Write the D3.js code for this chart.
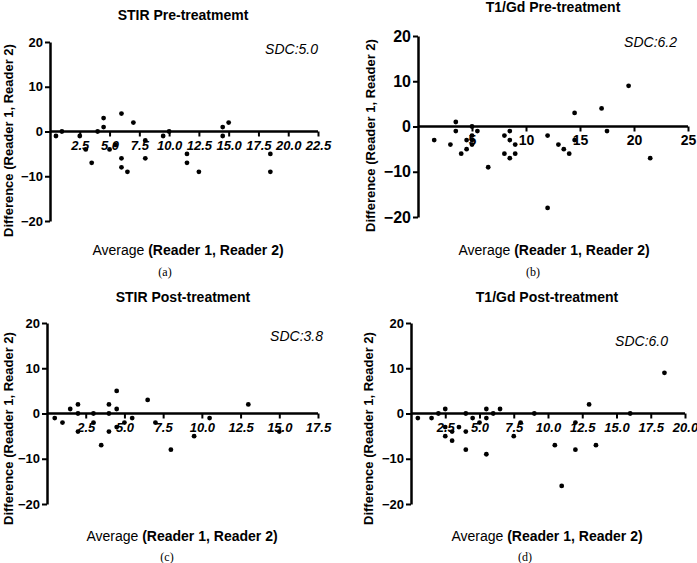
<!DOCTYPE html>
<html>
<head>
<meta charset="utf-8">
<script src="https://cdn.jsdelivr.net/npm/d3@7"></script>
<style>
  html, body { margin: 0; padding: 0; background: #fff; }
  svg { display: block; }
</style>
</head>
<body>
<svg id="chart" width="697" height="563"></svg>
<script>
// ---------- Data ----------
const titles = ["STIR Pre-treatmemt", "T1/Gd Pre-treatment", "STIR Post-treatment", "T1/Gd Post-treatment"];
const sdcLabels = ["SDC:5.0", "SDC:6.2", "SDC:3.8", "SDC:6.0"];
const panelLetters = ["(a)", "(b)", "(c)", "(d)"];
const yTicks = [-20, -10, 0, 10, 20];

const xTicksA = [2.5, 5.0, 7.5, 10.0, 12.5, 15.0, 17.5, 20.0, 22.5];
const xTicksB = [5, 10, 15, 20, 25];
const xTicksC = [2.5, 5.0, 7.5, 10.0, 12.5, 15.0, 17.5];
const xTicksD = [2.5, 5.0, 7.5, 10.0, 12.5, 15.0, 17.5, 20.0];

const avgA  = [0.5, 1, 2.5, 3, 3.5, 4, 4.5, 4.5, 5, 5.5, 6, 6, 6, 6.5, 7, 8, 8, 9.5, 10, 11.5, 11.5, 12.5, 14.5, 14.5, 15, 18.5, 18.5];
const diffA = [-1, 0, -1, -4, -7, 0, 3, 1, -4, -3, 4, -6, -8, -9, 2, -2, -6, -1, 0, -5, -7, -9, 1, -1, 2, -5, -9];

const avgB  = [1.5, 3, 3.5, 3.5, 4, 4.5, 4.5, 5, 5, 5, 5, 5.5, 6.5, 8, 8, 8.5, 8.5, 8.5, 9, 9, 12, 12, 13, 13.5, 14, 14.5, 14.5, 17, 17.5, 19.5, 21.5];
const diffB = [-3, -4, 1, -1, -6, -3, -5, 0, -2, -4, -3, -1, -9, -2, -6, -1, -3, -7, -4, -6, -2, -18, -4, -5, -6, 3, -3, 4, -1, 9, -7];

const avgC  = [0.5, 1, 1.5, 2, 2, 2, 3, 3, 3.5, 4, 4, 4, 4.5, 4.5, 4.5, 5, 5.5, 6.5, 7, 8, 9.5, 10.5, 13, 15];
const diffC = [-1, -2, 1, 2, 0, -4, 0, -2, -7, 2, 0, -4, 5, 1, -3, -2, -1, 3, -2, -8, -5, -1, 2, -4];

const avgD  = [0.5, 1.5, 2, 2.5, 2.5, 2.5, 3, 3, 3.5, 4, 4, 4, 4.5, 5, 5.5, 5.5, 5.5, 6, 6.5, 7.5, 8, 9, 10.5, 11, 12, 12, 13, 13.5, 16, 18.5];
const diffD = [-1, -1, 0, 1, -3, -5, -4, -6, -3, 0, -4, -8, -1, -2, 1, -1, -9, 0, 1, -5, -2, 0, -7, -16, -2, -8, 2, -7, 0, 9];

// ---------- Layout (pixel frames) ----------
const panels = [
  { avg: avgA, diff: diffA, xMax: 22.5, xTicks: xTicksA, fmt: d3.format(".1f"),
    x0: 50, x1: 318, yTop: 42, yBot: 221, italicTicks: true, tickFont: 13, yTickFont: 13,
    titleX: 183, titleY: 20, sdcX: 318, sdcY: 54, yLabX: 13, yLabBottom: 237,
    xLabX: 188, xLabY: 255, letterX: 165, letterY: 276 },
  { avg: avgB, diff: diffB, xMax: 25, xTicks: xTicksB, fmt: d3.format("d"),
    x0: 418, x1: 688, yTop: 36, yBot: 217, italicTicks: false, tickFont: 14, yTickFont: 16,
    titleX: 553, titleY: 12, sdcX: 677, sdcY: 47, yLabX: 375, yLabBottom: 232,
    xLabX: 554, xLabY: 255, letterX: 533, letterY: 276 },
  { avg: avgC, diff: diffC, xMax: 17.5, xTicks: xTicksC, fmt: d3.format(".1f"),
    x0: 47, x1: 318, yTop: 323, yBot: 504, italicTicks: true, tickFont: 13, yTickFont: 13,
    titleX: 183, titleY: 302, sdcX: 323, sdcY: 341, yLabX: 13, yLabBottom: 525,
    xLabX: 182, xLabY: 541, letterX: 167, letterY: 561 },
  { avg: avgD, diff: diffD, xMax: 20, xTicks: xTicksD, fmt: d3.format(".1f"),
    x0: 411, x1: 685, yTop: 323, yBot: 504, italicTicks: true, tickFont: 13, yTickFont: 13,
    titleX: 547, titleY: 302, sdcX: 668, sdcY: 346, yLabX: 373, yLabBottom: 525,
    xLabX: 547, xLabY: 541, letterX: 525, letterY: 561 }
];

const svg = d3.select("#chart");
const sans = "'Liberation Sans', Arial, Helvetica, sans-serif";

panels.forEach((p, i) => {
  const g = svg.append("g");
  const x = d3.scaleLinear().domain([0, p.xMax]).range([p.x0, p.x1]);
  const y = d3.scaleLinear().domain([-20, 20]).range([p.yBot, p.yTop]);

  // Y axis
  const yAxis = g.append("g")
    .attr("transform", `translate(${p.x0},0)`)
    .call(d3.axisLeft(y).tickValues(yTicks).tickSize(5).tickSizeOuter(0).tickPadding(2).tickFormat(d3.format("d")));
  yAxis.select(".domain").attr("stroke", "#000").attr("stroke-width", 2.5);
  yAxis.selectAll(".tick line").attr("stroke", "#000").attr("stroke-width", 2);
  yAxis.selectAll(".tick text")
    .attr("font-family", sans).attr("font-weight", "bold")
    .attr("font-size", p.yTickFont).attr("fill", "#000");

  // X axis at y = 0
  const xAxis = g.append("g")
    .attr("transform", `translate(0,${y(0)})`)
    .call(d3.axisBottom(x).tickValues(p.xTicks).tickSize(5).tickSizeOuter(0).tickPadding(4).tickFormat(p.fmt));
  xAxis.select(".domain").attr("stroke", "#000").attr("stroke-width", 2.5)
    .attr("d", `M${p.x0},0H${p.x1}`);
  xAxis.selectAll(".tick line").attr("stroke", "#000").attr("stroke-width", 2);
  xAxis.selectAll(".tick text")
    .attr("font-family", sans).attr("font-weight", "bold")
    .attr("font-style", p.italicTicks ? "italic" : "normal")
    .attr("font-size", p.tickFont).attr("fill", "#000");
  svg.selectAll(".domain").attr("fill", "none");

  // Points
  g.append("g").selectAll("circle")
    .data(p.avg.map((a, k) => [a, p.diff[k]]))
    .join("circle")
    .attr("cx", d => x(d[0]))
    .attr("cy", d => y(d[1]))
    .attr("r", 2.4)
    .attr("fill", "#000");

  // Title
  g.append("text")
    .attr("x", p.titleX).attr("y", p.titleY)
    .attr("text-anchor", "middle")
    .attr("font-family", sans).attr("font-weight", "bold").attr("font-size", 14)
    .text(titles[i]);

  // SDC label
  g.append("text")
    .attr("x", p.sdcX).attr("y", p.sdcY)
    .attr("text-anchor", "end")
    .attr("font-family", sans).attr("font-style", "italic").attr("font-size", 14)
    .text(sdcLabels[i]);

  // Y axis label
  g.append("text")
    .attr("transform", `translate(${p.yLabX},${p.yLabBottom}) rotate(-90)`)
    .attr("text-anchor", "start")
    .attr("font-family", sans).attr("font-weight", "bold").attr("font-size", 13)
    .text("Difference (Reader 1, Reader 2)");

  // X axis label
  const xl = g.append("text")
    .attr("x", p.xLabX).attr("y", p.xLabY)
    .attr("text-anchor", "middle")
    .attr("font-family", sans).attr("font-size", 14);
  xl.append("tspan").text("Average ");
  xl.append("tspan").attr("font-weight", "bold").text("(Reader 1, Reader 2)");

  // Panel letter
  g.append("text")
    .attr("x", p.letterX).attr("y", p.letterY)
    .attr("text-anchor", "middle")
    .attr("font-family", "'Liberation Serif', 'Times New Roman', serif").attr("font-size", 12)
    .text(panelLetters[i]);
});
</script>
</body>
</html>
